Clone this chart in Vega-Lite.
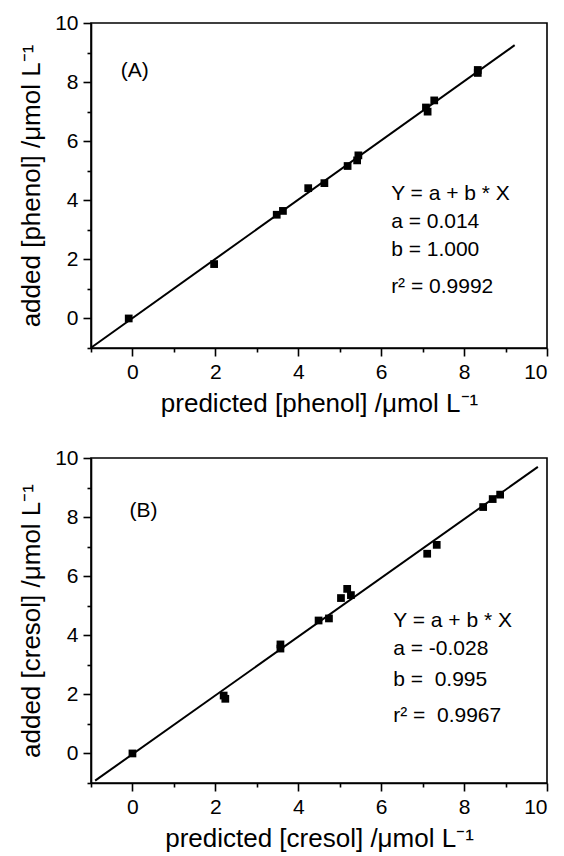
{
  "$schema": "https://vega.github.io/schema/vega-lite/v6.json",
  "background": "white",
  "padding": {"left": 17, "top": 11, "right": 5, "bottom": 3},
  "spacing": 29,
  "config": {
    "font": "Liberation Sans",
    "view": {"stroke": "black", "strokeWidth": 1.6},
    "axis": {
      "grid": false,
      "domainColor": "black",
      "domainWidth": 1.6,
      "tickColor": "black",
      "tickWidth": 1.6,
      "labelColor": "black",
      "titleColor": "black",
      "labelFont": "Liberation Sans",
      "titleFont": "Liberation Sans",
      "labelFontSize": 21,
      "titleFontSize": 26,
      "titleFontWeight": "normal",
      "labelPadding": 5
    },
    "text": {"font": "Liberation Sans"}
  },
  "vconcat": [
    {
      "width": 456,
      "height": 325,
      "resolve": {"axis": {"x": "independent", "y": "independent"}},
      "layer": [
        {
          "data": {"values": [{"x": -1, "y": -0.99}, {"x": 9.22, "y": 9.25}]},
          "mark": {"type": "line", "color": "black", "strokeWidth": 2},
          "encoding": {
            "x": {"field": "x", "type": "quantitative", "scale": {"domain": [-1, 10], "nice": false, "zero": false},
                  "axis": {"orient": "bottom", "values": [-1, 1, 3, 5, 7, 9], "labels": false, "domain": false, "tickSize": 4, "title": null}},
            "y": {"field": "y", "type": "quantitative", "scale": {"domain": [-1, 10], "nice": false, "zero": false},
                  "axis": {"orient": "left", "values": [-1, 1, 3, 5, 7, 9], "labels": false, "domain": false, "tickSize": 4, "title": null}}
          }
        },
        {
          "data": {"values": [
            {"x": -0.09, "y": 0.0}, {"x": 1.97, "y": 1.84}, {"x": 3.48, "y": 3.51}, {"x": 3.63, "y": 3.64},
            {"x": 4.24, "y": 4.41}, {"x": 4.63, "y": 4.58}, {"x": 5.19, "y": 5.16}, {"x": 5.42, "y": 5.35},
            {"x": 5.45, "y": 5.52}, {"x": 7.08, "y": 7.14}, {"x": 7.12, "y": 7.0}, {"x": 7.28, "y": 7.38},
            {"x": 8.33, "y": 8.41}, {"x": 8.33, "y": 8.31}
          ]},
          "mark": {"type": "point", "shape": "square", "filled": true, "color": "black", "opacity": 1, "size": 60},
          "encoding": {
            "x": {"field": "x", "type": "quantitative",
                  "axis": {"orient": "bottom", "values": [0, 2, 4, 6, 8, 10], "tickSize": 8, "title": "predicted [phenol] /μmol L⁻¹", "titlePadding": 8}},
            "y": {"field": "y", "type": "quantitative",
                  "axis": {"orient": "left", "values": [0, 2, 4, 6, 8, 10], "tickSize": 8, "title": "added [phenol] /μmol L⁻¹", "titlePadding": 10}}
          }
        },
        {
          "data": {"values": [
            {"label": "(A)", "x": -0.28, "y": 8.39},
            {"label": "Y = a + b * X", "x": 6.24, "y": 4.22},
            {"label": "a = 0.014", "x": 6.24, "y": 3.27},
            {"label": "b = 1.000", "x": 6.24, "y": 2.31},
            {"label": "r² = 0.9992", "x": 6.24, "y": 1.07}
          ]},
          "mark": {"type": "text", "align": "left", "baseline": "middle", "fontSize": 21, "color": "black"},
          "encoding": {
            "x": {"field": "x", "type": "quantitative", "axis": null},
            "y": {"field": "y", "type": "quantitative", "axis": null},
            "text": {"field": "label", "type": "nominal"}
          }
        }
      ]
    },
    {
      "width": 456,
      "height": 325,
      "resolve": {"axis": {"x": "independent", "y": "independent"}},
      "layer": [
        {
          "data": {"values": [{"x": -0.9, "y": -0.92}, {"x": 9.78, "y": 9.7}]},
          "mark": {"type": "line", "color": "black", "strokeWidth": 2},
          "encoding": {
            "x": {"field": "x", "type": "quantitative", "scale": {"domain": [-1, 10], "nice": false, "zero": false},
                  "axis": {"orient": "bottom", "values": [-1, 1, 3, 5, 7, 9], "labels": false, "domain": false, "tickSize": 4, "title": null}},
            "y": {"field": "y", "type": "quantitative", "scale": {"domain": [-1, 10], "nice": false, "zero": false},
                  "axis": {"orient": "left", "values": [-1, 1, 3, 5, 7, 9], "labels": false, "domain": false, "tickSize": 4, "title": null}}
          }
        },
        {
          "data": {"values": [
            {"x": 0.0, "y": 0.0}, {"x": 2.2, "y": 1.96}, {"x": 2.24, "y": 1.85}, {"x": 3.57, "y": 3.69},
            {"x": 3.57, "y": 3.55}, {"x": 4.49, "y": 4.5}, {"x": 4.74, "y": 4.57}, {"x": 5.03, "y": 5.26},
            {"x": 5.18, "y": 5.57}, {"x": 5.27, "y": 5.36}, {"x": 7.11, "y": 6.76}, {"x": 7.34, "y": 7.06},
            {"x": 8.46, "y": 8.34}, {"x": 8.69, "y": 8.61}, {"x": 8.87, "y": 8.76}
          ]},
          "mark": {"type": "point", "shape": "square", "filled": true, "color": "black", "opacity": 1, "size": 60},
          "encoding": {
            "x": {"field": "x", "type": "quantitative",
                  "axis": {"orient": "bottom", "values": [0, 2, 4, 6, 8, 10], "tickSize": 8, "title": "predicted [cresol] /μmol L⁻¹", "titlePadding": 8}},
            "y": {"field": "y", "type": "quantitative",
                  "axis": {"orient": "left", "values": [0, 2, 4, 6, 8, 10], "tickSize": 8, "title": "added [cresol] /μmol L⁻¹", "titlePadding": 10}}
          }
        },
        {
          "data": {"values": [
            {"label": "(B)", "x": -0.07, "y": 8.2},
            {"label": "Y = a + b * X", "x": 6.29, "y": 4.48},
            {"label": "a = -0.028", "x": 6.29, "y": 3.52},
            {"label": "b = \u00a00.995", "x": 6.29, "y": 2.5},
            {"label": "r² = \u00a00.9967", "x": 6.29, "y": 1.26}
          ]},
          "mark": {"type": "text", "align": "left", "baseline": "middle", "fontSize": 21, "color": "black"},
          "encoding": {
            "x": {"field": "x", "type": "quantitative", "axis": null},
            "y": {"field": "y", "type": "quantitative", "axis": null},
            "text": {"field": "label", "type": "nominal"}
          }
        }
      ]
    }
  ]
}
